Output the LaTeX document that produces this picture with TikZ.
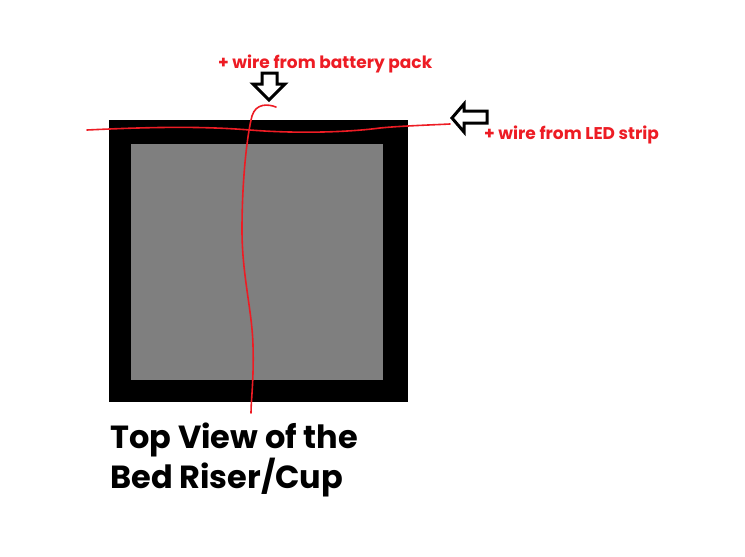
\documentclass[tikz,border=0pt]{standalone}
\usepackage{fontspec}
\setmainfont{Poppins}
\usetikzlibrary{positioning}
\definecolor{paintred}{RGB}{237,28,36}
\definecolor{cupgray}{RGB}{127,127,127}
\tikzset{
  wire/.style={
    draw = paintred,
    line width = 1.6pt,
    line cap = round,
  },
  hollowarrow/.style={
    draw,
    line width = 3pt,
    line join = miter,
  },
  redlabel/.style={
    text = paintred,
    font = \bfseries\fontsize{17}{19}\selectfont,
    inner sep = 0pt,
    anchor = base west,
  },
  caption/.style={
    font = \bfseries\fontsize{32}{40}\selectfont,
    align = left,
    inner sep = 0pt,
    anchor = base west,
  },
}

\begin{document}
\begin{tikzpicture}[x=1pt,y=-1pt]
\useasboundingbox (0,0) rectangle (745,557);
% the cup seen from above
\fill[black] (109,120) rectangle (408,402);
\fill[cupgray] (131,144) rectangle (383,380);
% wire from the LED strip
\draw[wire] (87,130) .. controls (150,127) and (200,126) .. (250,130)
  .. controls (300,134) and (350,132) .. (380,128)
  .. controls (400,126) and (430,125) .. (450,124);
% wire from the battery pack
\draw[wire] (276,107) .. controls (268,104) and (256,103) .. (252,116)
  .. controls (247,135) and (242,180) .. (242,230)
  .. controls (242,275) and (252,310) .. (253,345)
  .. controls (254,380) and (251,400) .. (251,413);
% outline arrows
\draw[hollowarrow] (262,73) -- (277,73) -- (277,84) -- (285,84) -- (269,100)
  -- (253,84) -- (262,84) -- cycle;
\draw[hollowarrow] (452,118) -- (464,104) -- (464,111) -- (487,111) -- (487,123)
  -- (464,123) -- (464,132) -- cycle;
% labels
\node[redlabel] (battery) at (218,68) {+ wire from battery pack};
\node[redlabel] (strip) at (484,139) {+ wire from LED strip};
\node[caption] (title) at (110,488) {Top View of the\\Bed Riser/Cup};
\end{tikzpicture}
\end{document}
